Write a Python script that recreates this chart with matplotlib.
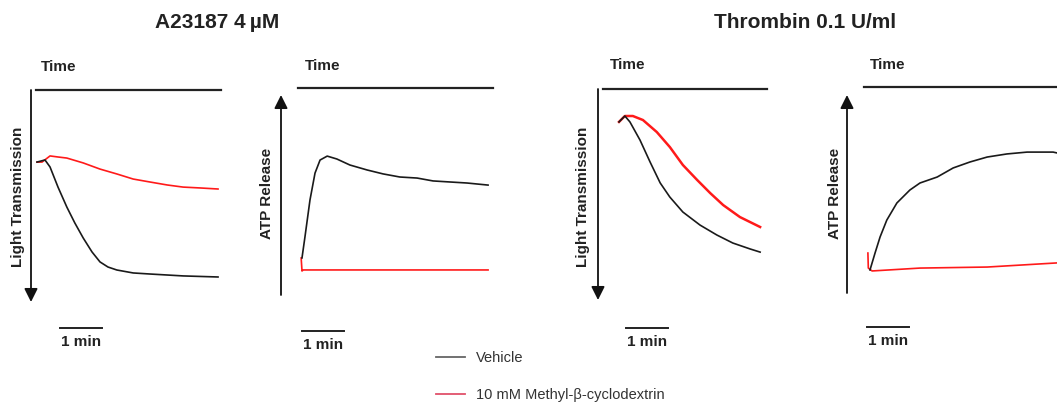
import matplotlib
matplotlib.use("Agg")
import matplotlib.pyplot as plt
from matplotlib.lines import Line2D
from matplotlib import transforms

plt.rcParams["font.family"] = ["Liberation Sans", "DejaVu Sans"]

W, H = 1057, 403
PX_PER_MIN = 42.0

# A23187 4 uM -- light transmission (0 = top of trace window, 100 = bottom)
lt1_t_vehicle = [0, 0.19, 0.31, 0.50, 0.71, 0.90, 1.10, 1.31, 1.50, 1.69, 1.90, 2.29, 2.69, 3.48, 4.31]
lt1_vehicle = [34.0, 33.0, 36.3, 45.8, 55.2, 62.7, 69.8, 76.4, 81.1, 83.5, 84.9, 86.3, 86.8, 87.7, 88.2]
lt1_t_mbcd = [0, 0.12, 0.31, 0.50, 0.71, 1.10, 1.50, 1.90, 2.29, 2.69, 3.10, 3.48, 3.88, 4.31]
lt1_mbcd = [34.0, 34.0, 31.1, 31.6, 32.1, 34.4, 37.3, 39.6, 42.0, 43.4, 44.8, 45.8, 46.2, 46.7]

# A23187 4 uM -- ATP release
atp1_t_vehicle = [0, 0.02, 0.07, 0.19, 0.31, 0.43, 0.60, 0.83, 1.14, 1.55, 1.93, 2.33, 2.74, 3.12, 3.52, 3.93, 4.43]
atp1_vehicle = [17.9, 20.8, 28.0, 45.9, 58.9, 65.2, 67.1, 65.7, 62.8, 60.4, 58.5, 57.0, 56.5, 55.1, 54.6, 54.1, 53.1]
atp1_t_mbcd = [-0.02, 0.0, 0.03, 1.0, 2.5, 4.43]
atp1_mbcd = [17.9, 11.6, 12.1, 12.1, 12.1, 12.1]

# Thrombin 0.1 U/ml -- light transmission
lt2_t_vehicle = [0, 0.14, 0.26, 0.50, 0.74, 0.98, 1.21, 1.52, 1.93, 2.33, 2.71, 3.12, 3.36]
lt2_vehicle = [15.6, 12.8, 15.6, 24.2, 34.6, 44.5, 51.2, 58.3, 64.5, 69.2, 73.0, 75.8, 77.3]
lt2_t_mbcd = [0, 0.14, 0.33, 0.57, 0.90, 1.21, 1.52, 1.86, 2.17, 2.48, 2.88, 3.36]
lt2_mbcd = [15.6, 12.8, 12.8, 14.7, 20.4, 27.5, 36.0, 43.1, 49.3, 55.0, 60.7, 65.4]

# Thrombin 0.1 U/ml -- ATP release
atp2_t_vehicle = [0, 0.12, 0.24, 0.40, 0.64, 0.95, 1.19, 1.60, 1.98, 2.38, 2.79, 3.26, 3.74, 4.36, 4.45]
atp2_vehicle = [11.2, 19.4, 27.2, 35.4, 43.7, 50.0, 53.4, 56.3, 60.7, 63.6, 66.0, 67.5, 68.4, 68.4, 68.0]
atp2_t_mbcd = [-0.05, -0.04, 0.05, 1.19, 2.79, 4.45]
atp2_mbcd = [19.4, 12.1, 10.7, 12.1, 12.6, 14.6]

titles = ["A23187 4\u2009\u00b5M", "Thrombin 0.1 U/ml"]
legend_labels = ["Vehicle", "10 mM Methyl-\u03b2-cyclodextrin"]

VEHICLE = "#1a1a1a"
MBCD = "#ff1a1a"
INK = "#222222"

# panel layout in pixels: box (left, top, right, bottom), trace start x,
# top-line start, arrow tip, scale-bar start (min) and drop, label position
panels = [
    dict(box=(31, 90, 221, 302), x0=37, kind="lt", line_x=36, tip=302,
         bar_t=0.55, bar_drop=26, time_xy=(41, 67), ylab_xy=(18, 197),
         t_v=lt1_t_vehicle, v=lt1_vehicle, t_m=lt1_t_mbcd, m=lt1_mbcd, lw_m=1.2),
    dict(box=(281, 88, 493, 295), x0=302, kind="atp", line_x=298, tip=95,
         bar_t=0.0, bar_drop=36, time_xy=(305, 66), ylab_xy=(267, 193),
         t_v=atp1_t_vehicle, v=atp1_vehicle, t_m=atp1_t_mbcd, m=atp1_mbcd, lw_m=1.2),
    dict(box=(598, 89, 767, 300), x0=619, kind="lt", line_x=603, tip=300,
         bar_t=0.17, bar_drop=28, time_xy=(610, 65), ylab_xy=(583, 197),
         t_v=lt2_t_vehicle, v=lt2_vehicle, t_m=lt2_t_mbcd, m=lt2_mbcd, lw_m=1.8),
    dict(box=(847, 87, 1057, 293), x0=870, kind="atp", line_x=864, tip=95,
         bar_t=-0.07, bar_drop=34, time_xy=(870, 65), ylab_xy=(835, 193),
         t_v=atp2_t_vehicle, v=atp2_vehicle, t_m=atp2_t_mbcd, m=atp2_mbcd, lw_m=1.2),
]

fig = plt.figure(figsize=(W / 100, H / 100), dpi=100)

for p in panels:
    left, top, right, bottom = p["box"]
    hpx = bottom - top
    ax = fig.add_axes([left / W, 1 - bottom / H, (right - left) / W, hpx / H])
    ax.set_xlim((left - p["x0"]) / PX_PER_MIN, (right - p["x0"]) / PX_PER_MIN)
    if p["kind"] == "lt":
        ax.set_ylim(100, 0)
    else:
        ax.set_ylim(0, 100)
    ax.axis("off")

    ax.plot(p["t_v"], p["v"], color=VEHICLE, lw=1.2, clip_on=False, zorder=3)
    ax.plot(p["t_m"], p["m"], color=MBCD, lw=p["lw_m"], clip_on=False, zorder=2)

    # "Time" line along the top
    ax.plot([(p["line_x"] - left) / (right - left), 1], [1, 1],
            transform=ax.transAxes, color=INK, lw=1.6, clip_on=False)

    # signal arrow on the left
    tip = (bottom - p["tip"]) / hpx
    if p["kind"] == "lt":
        start, end = 1.0, tip
    else:
        start, end = 0.0, tip
    ax.annotate("", xy=(0, end), xytext=(0, start), xycoords="axes fraction",
                arrowprops=dict(arrowstyle="-|>", color="#111111", lw=1.3,
                                mutation_scale=20, shrinkA=0, shrinkB=0))

    # 1 min scale bar under the trace
    tr = transforms.blended_transform_factory(ax.transData, ax.transAxes)
    yb = -p["bar_drop"] / hpx
    ax.plot([p["bar_t"], p["bar_t"] + 1], [yb, yb], transform=tr,
            color=INK, lw=1.4, clip_on=False)
    ax.text(p["bar_t"] + 0.5, yb - 7 / hpx, "1 min", transform=tr, ha="center",
            va="top", fontsize=11, fontweight="bold", color=INK)

    tx, ty = p["time_xy"]
    fig.text(tx / W, 1 - ty / H, "Time", ha="left", va="center",
             fontsize=11, fontweight="bold", color=INK)
    lx, ly = p["ylab_xy"]
    fig.text(lx / W, 1 - ly / H,
             "Light Transmission" if p["kind"] == "lt" else "ATP Release",
             rotation=90, ha="center", va="center", fontsize=11,
             fontweight="bold", color=INK)

fig.text(217 / W, 1 - 23 / H, titles[0], ha="center", va="center",
         fontsize=15, fontweight="bold", color=INK)
fig.text(805 / W, 1 - 23 / H, titles[1], ha="center", va="center",
         fontsize=15, fontweight="bold", color=INK)

handles = [Line2D([], [], color="#666666", lw=1.3),
           Line2D([], [], color="#e0506a", lw=1.3)]
fig.legend(handles, legend_labels, loc="upper left",
           bbox_to_anchor=(423 / W, 1 - 338 / H), frameon=False,
           fontsize=10.5, handlelength=2.0, handletextpad=0.75,
           labelspacing=1.55, labelcolor="#333333")

fig.savefig("out.png", dpi=100)
